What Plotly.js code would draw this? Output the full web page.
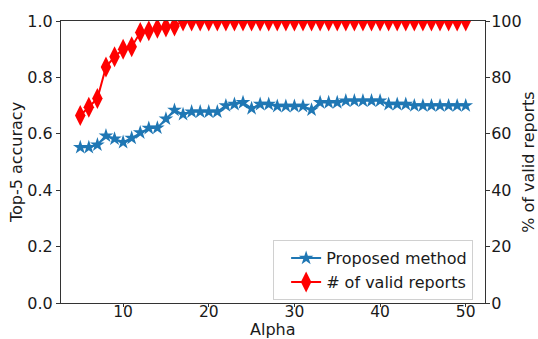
<!DOCTYPE html>
<html>
<head>
<meta charset="utf-8">
<script src="https://cdn.plot.ly/plotly-3.0.1.min.js"></script>
<style>html,body{margin:0;padding:0;background:#fff;}#chart{width:538px;height:339px;}</style>
</head>
<body>
<div id="chart"></div>
<script>
const alpha = [5,6,7,8,9,10,11,12,13,14,15,16,17,18,19,20,21,22,23,24,25,26,27,28,29,30,31,32,33,34,35,36,37,38,39,40,41,42,43,44,45,46,47,48,49,50];
const proposedAccuracy = [0.552,0.552,0.561,0.593,0.582,0.570,0.585,0.604,0.620,0.621,0.653,0.684,0.669,0.678,0.678,0.678,0.678,0.700,0.705,0.711,0.690,0.705,0.705,0.698,0.698,0.698,0.698,0.685,0.711,0.711,0.711,0.717,0.717,0.717,0.717,0.717,0.705,0.705,0.705,0.700,0.700,0.700,0.700,0.700,0.700,0.700];
const validReports = [66.5,69.4,72.5,83.7,87.3,90.0,90.9,95.9,96.5,97.4,97.9,98.2,100,100,100,100,100,100,100,100,100,100,100,100,100,100,100,100,100,100,100,100,100,100,100,100,100,100,100,100,100,100,100,100,100,100];
const leftTicks = [0,0.2,0.4,0.6,0.8,1.0];
const rightTicks = [0,20,40,60,80,100];
const xTicks = [10,20,30,40,50];

const font = {family: 'DejaVu Sans', size: 16, color: '#1a1a1a'};
const xTickFont = {family: 'DejaVu Sans', size: 15.5, color: '#1a1a1a'};
const traces = [
  {x: alpha, y: proposedAccuracy, name: 'Proposed method', type: 'scatter', mode: 'lines+markers',
   line: {color: '#1f77b4', width: 2}, marker: {symbol: 'star', size: 11, color: '#1f77b4'}, yaxis: 'y'},
  {x: alpha, y: validReports, name: '# of valid reports', type: 'scatter', mode: 'lines+markers',
   line: {color: '#ff0000', width: 2}, marker: {symbol: 'diamond-tall', size: 15, color: '#ff0000'}, yaxis: 'y2'}
];
const axisCommon = {showgrid: false, zeroline: false, showline: true, linecolor: '#333', linewidth: 1,
  ticks: 'outside', ticklen: 4, tickcolor: '#333', tickfont: font};
const layout = {
  width: 538, height: 339,
  margin: {l: 61, r: 53, t: 21, b: 36},
  paper_bgcolor: '#fff', plot_bgcolor: '#fff',
  font: font,
  showlegend: true,
  legend: {x: 0.972, y: 0.01, xanchor: 'right', yanchor: 'bottom', bgcolor: '#fff', bordercolor: '#d0d0d0', borderwidth: 1, indentation: 12, font: font},
  xaxis: Object.assign({}, axisCommon, {range: [2.75, 52.25], tickvals: xTicks, mirror: true, ticklen: 3, ticklabelstandoff: -9, tickfont: xTickFont}),
  yaxis: Object.assign({}, axisCommon, {range: [0, 1], tickvals: leftTicks, tickformat: '.1f',
    title: {text: 'Top-5 accuracy', font: font, standoff: 0}}),
  yaxis2: Object.assign({}, axisCommon, {range: [0, 100], tickvals: rightTicks, overlaying: 'y', side: 'right', ticklabelstandoff: -2,
    title: {text: '% of valid reports', font: font, standoff: 6}}),
  annotations: [{text: 'Alpha', xref: 'paper', yref: 'paper', x: 0.5, y: -0.093, xanchor: 'center', yanchor: 'middle', borderpad: 0, showarrow: false, font: font}]
};
Plotly.newPlot('chart', traces, layout, {displayModeBar: false, staticPlot: true});
</script>
</body>
</html>
